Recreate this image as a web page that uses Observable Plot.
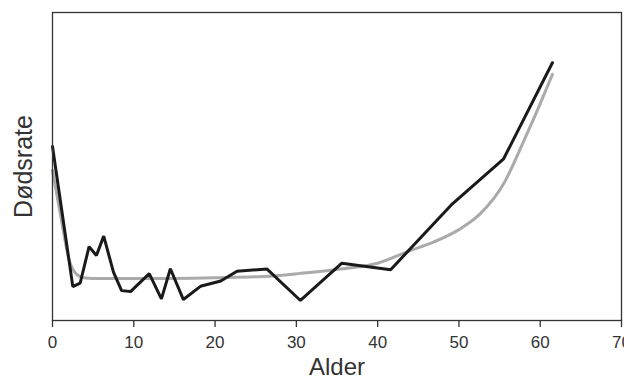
<!DOCTYPE html>
<html>
<head>
<meta charset="utf-8">
<script src="https://cdn.jsdelivr.net/npm/d3@7"></script>
<script src="https://cdn.jsdelivr.net/npm/@observablehq/plot@0.6"></script>
<style>
  html, body { margin: 0; padding: 0; background: #fff; }
  #chart svg { display: block; }
</style>
</head>
<body>
<div id="chart"></div>
<script>
// Observed (black) death rate by age
const observedAge  = [0, 2.5, 3.4, 4.5, 5.4, 6.3, 7.5, 8.5, 9.6, 11.9, 13.4, 14.5, 16.1, 18.2, 20.7, 22.7, 26.4, 30.5, 35.6, 41.6, 49.2, 55.5, 61.5];
const observedRate = [56.5, 11.0, 12.1, 24.0, 21.1, 27.4, 15.7, 9.7, 9.4, 15.2, 7.0, 16.8, 6.8, 11.1, 12.8, 16.0, 16.7, 6.5, 18.6, 16.5, 37.9, 52.5, 83.7];
// Fitted (gray) curve
const fittedAge  = [0, 1, 2, 3, 4, 6, 10, 20, 26, 30.5, 36, 40, 44, 47, 50, 52.6, 55.5, 58, 60, 61.5];
const fittedRate = [48.7, 34.1, 20.1, 14.9, 13.8, 13.6, 13.6, 13.9, 14.3, 15.3, 16.9, 18.6, 22.7, 25.6, 29.5, 34.6, 44.4, 58.4, 70.4, 79.9];
const xTicks = [0, 10, 20, 30, 40, 50, 60, 70];
const xLabel = "Alder";
const yLabel = "Dødsrate";

const observed = observedAge.map((a, i) => ({age: a, rate: observedRate[i]}));
const fitted = fittedAge.map((a, i) => ({age: a, rate: fittedRate[i]}));

const chart = Plot.plot({
  width: 624,
  height: 384,
  marginLeft: 52,
  marginRight: 3,
  marginTop: 12,
  marginBottom: 64,
  style: {fontFamily: "'Liberation Sans', Arial, sans-serif", color: "#333", background: "#fff", overflow: "visible"},
  x: {domain: [0, 70], ticks: xTicks, tickSize: 7, tickPadding: 8, label: null, tickFormat: d => String(d)},
  y: {domain: [0, 100], axis: null},
  marks: [
    Plot.line(fitted, {x: "age", y: "rate", stroke: "#aaaaaa", strokeWidth: 3, curve: "monotone-x"}),
    Plot.line(observed, {x: "age", y: "rate", stroke: "#1a1a1a", strokeWidth: 3, strokeLinejoin: "miter"}),
    Plot.frame({stroke: "#333", strokeWidth: 1.3}),
    Plot.text([xLabel], {frameAnchor: "bottom", dy: 54, fontSize: 24, fill: "#333", textAnchor: "middle"}),
    Plot.text([yLabel], {frameAnchor: "left", dx: -29, rotate: -90, fontSize: 25, fill: "#333", textAnchor: "middle"})
  ]
});
chart.querySelectorAll("g[aria-label='x-axis tick label']").forEach(e => e.setAttribute("font-size", 17));
chart.querySelectorAll("g[aria-label='x-axis tick']").forEach(e => e.setAttribute("stroke-width", 1.3));
document.getElementById("chart").appendChild(chart);
</script>
</body>
</html>
